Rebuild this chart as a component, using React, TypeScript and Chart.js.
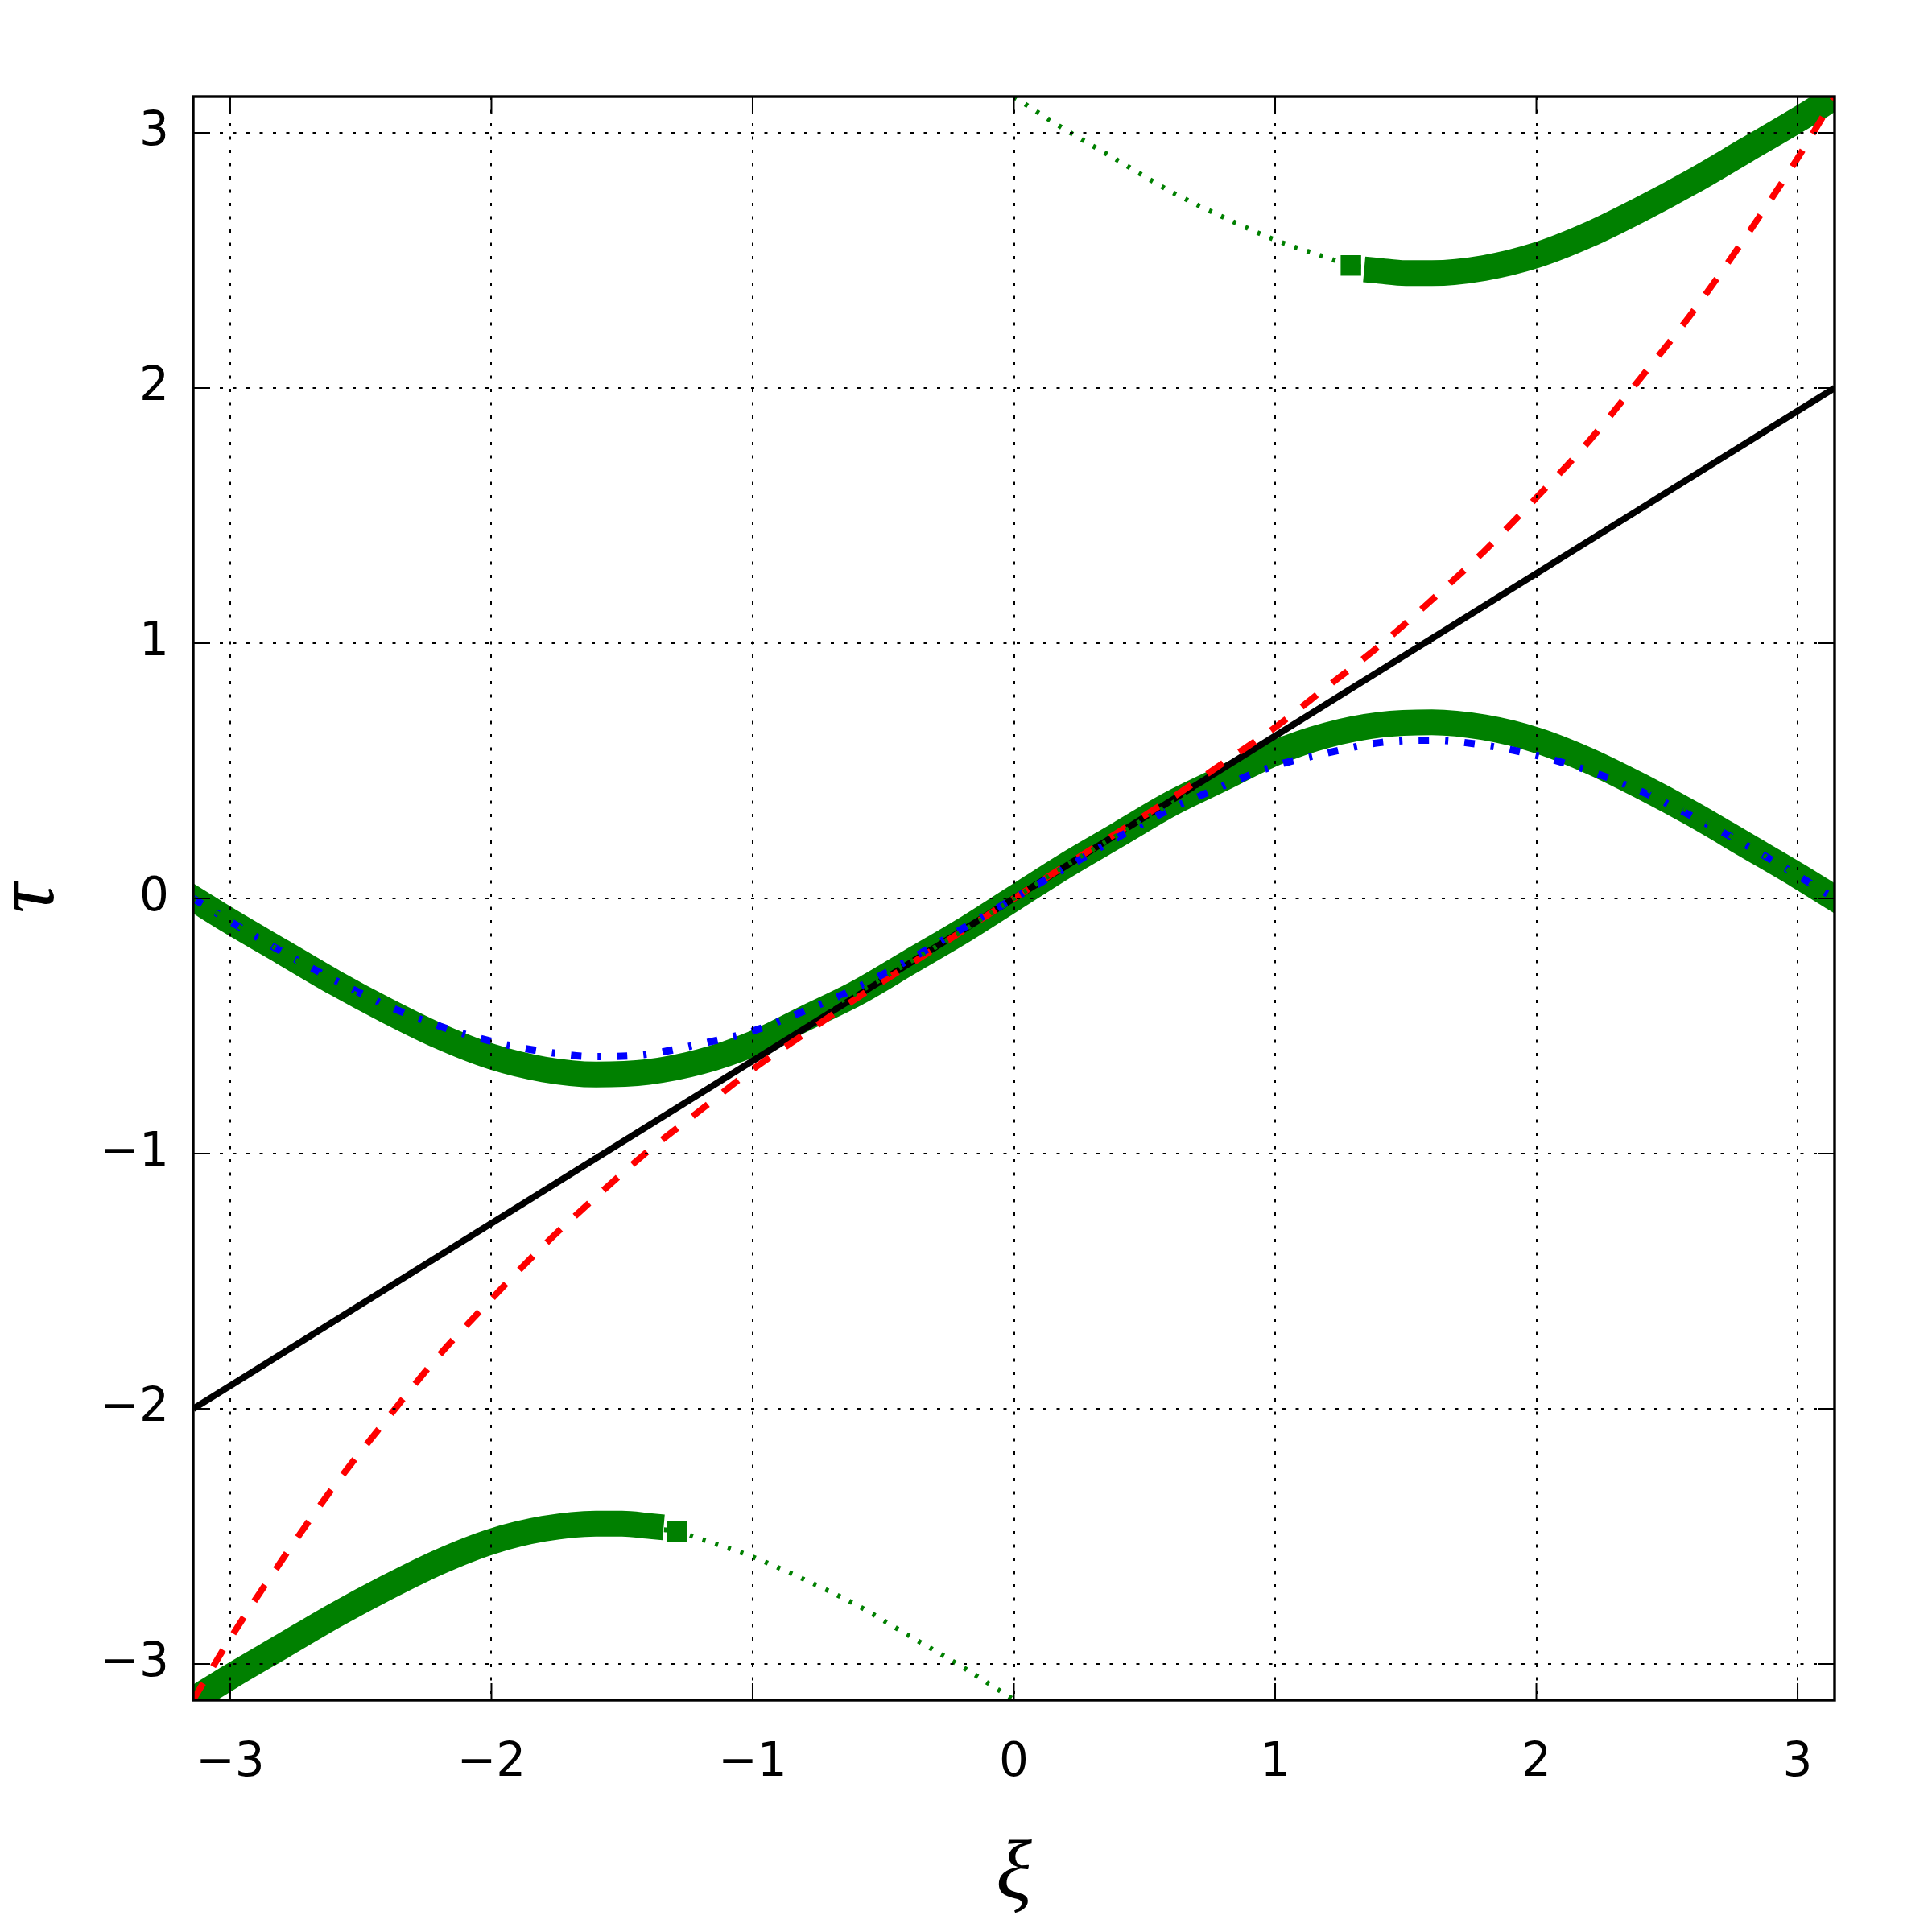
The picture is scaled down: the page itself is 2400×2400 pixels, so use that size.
import React, { useEffect, useRef } from 'react';
import { Chart, registerables } from 'chart.js';

Chart.register(...registerables);

// ---------- data ----------
const XI = [-3.1416, -3.0, -2.8, -2.6, -2.4, -2.2, -2.0, -1.8, -1.6, -1.4, -1.2, -1.0, -0.8, -0.6, -0.4, -0.2, 0,
  0.2, 0.4, 0.6, 0.8, 1.0, 1.2, 1.4, 1.6, 1.8, 2.0, 2.2, 2.4, 2.6, 2.8, 3.0, 3.1416];

const GREEN_MID = [0, -0.09, -0.21, -0.33, -0.44, -0.54, -0.62, -0.67, -0.69, -0.68, -0.64, -0.57, -0.47, -0.37, -0.25, -0.13, 0,
  0.13, 0.25, 0.37, 0.47, 0.57, 0.64, 0.68, 0.69, 0.67, 0.62, 0.54, 0.44, 0.33, 0.21, 0.09, 0];

const BLUE = [0, -0.09, -0.21, -0.32, -0.42, -0.50, -0.56, -0.60, -0.62, -0.61, -0.57, -0.52, -0.44, -0.35, -0.24, -0.12, 0,
  0.12, 0.24, 0.35, 0.44, 0.52, 0.57, 0.61, 0.62, 0.60, 0.56, 0.50, 0.42, 0.32, 0.21, 0.09, 0];

const RED = [-3.14, -2.90, -2.59, -2.30, -2.04, -1.79, -1.57, -1.36, -1.17, -0.99, -0.83, -0.67, -0.53, -0.39, -0.26, -0.13, 0,
  0.13, 0.26, 0.39, 0.53, 0.67, 0.83, 0.99, 1.17, 1.36, 1.57, 1.79, 2.04, 2.30, 2.59, 2.90, 3.14];

const BLACK_X = [-3.1416, 3.1416];
const BLACK_Y = [-2, 2];

const XI_UP = [1.39, 1.5, 1.6, 1.8, 2.0, 2.2, 2.4, 2.6, 2.8, 3.0, 3.1416];
const GREEN_UP = [2.46, 2.45, 2.45, 2.47, 2.52, 2.60, 2.70, 2.81, 2.93, 3.05, 3.14];

const XI_LOW = [-3.1416, -3.0, -2.8, -2.6, -2.4, -2.2, -2.0, -1.8, -1.6, -1.5, -1.39];
const GREEN_LOW = [-3.14, -3.05, -2.93, -2.81, -2.70, -2.60, -2.52, -2.47, -2.45, -2.45, -2.46];

const XI_DOT_UP = [0, 0.2, 0.4, 0.6, 0.8, 1.0, 1.2, 1.29, 1.39];
const DOT_UP = [3.14, 3.01, 2.89, 2.77, 2.67, 2.58, 2.51, 2.48, 2.47];

const XI_DOT_LOW = [-1.39, -1.29, -1.2, -1.0, -0.8, -0.6, -0.4, -0.2, 0];
const DOT_LOW = [-2.47, -2.48, -2.51, -2.58, -2.67, -2.77, -2.89, -3.01, -3.14];

const MARK_X = [1.29, -1.29];
const MARK_Y = [2.48, -2.48];

const TICK_VALUES = [-3, -2, -1, 0, 1, 2, 3];
const TICK_LABELS = ['\u22123', '\u22122', '\u22121', '0', '1', '2', '3'];

const X_TITLE = '\u03BE';
const Y_TITLE = '\u03C4';

// ---------- styles ----------
const GREEN = '#008000';
const BLUE_C = '#0000ff';
const RED_C = '#ff0000';
const BLACK_C = '#000000';

const pts = (xs: number[], ys: number[]) => xs.map((x, i) => ({ x, y: ys[i] }));

const framePlugin = {
  id: 'frameTicks',
  afterDraw(chart: any) {
    const { ctx, chartArea, scales } = chart;
    const { left, right, top, bottom } = chartArea;
    const L = 21;
    ctx.save();
    ctx.strokeStyle = '#000';
    ctx.lineWidth = 2;
    ctx.setLineDash([]);
    ctx.beginPath();
    for (const v of TICK_VALUES) {
      const px = scales.x.getPixelForValue(v);
      ctx.moveTo(px, bottom); ctx.lineTo(px, bottom - L);
      ctx.moveTo(px, top); ctx.lineTo(px, top + L);
      const py = scales.y.getPixelForValue(v);
      ctx.moveTo(left, py); ctx.lineTo(left + L, py);
      ctx.moveTo(right, py); ctx.lineTo(right - L, py);
    }
    ctx.stroke();
    ctx.lineWidth = 3.4;
    ctx.strokeRect(left, top, right - left, bottom - top);
    ctx.restore();
  },
};

export default function App() {
  const ref = useRef<HTMLCanvasElement>(null);

  useEffect(() => {
    const canvas = ref.current;
    if (!canvas) return;

    const tickFont = { family: 'DejaVu Sans', size: 58 };
    const titleFont = { family: 'Liberation Serif', size: 104, style: 'italic' as const, lineHeight: 0.6 };

    const lineDs = (data: any, color: string, width: number, dash: number[] = [], extra: any = {}) => ({
      data,
      showLine: true,
      borderColor: color,
      backgroundColor: color,
      borderWidth: width,
      borderDash: dash,
      pointRadius: 0,
      pointHoverRadius: 0,
      cubicInterpolationMode: 'monotone' as const,
      fill: false,
      ...extra,
    });

    const chart = new Chart(canvas, {
      type: 'scatter',
      data: {
        datasets: [
          lineDs(pts(XI, GREEN_MID), GREEN, 6, [4, 12.5]),
          lineDs(pts(XI, BLUE), BLUE_C, 9, [13, 20, 4, 20]),
          lineDs(pts(XI, RED), RED_C, 8, [24, 24]),
          lineDs(pts(BLACK_X, BLACK_Y), BLACK_C, 8),
          {
            data: pts(MARK_X, MARK_Y),
            showLine: false,
            pointStyle: 'rect',
            pointRadius: 18,
            pointHoverRadius: 18,
            pointBorderWidth: 0,
            backgroundColor: GREEN,
            borderColor: GREEN,
          },
          lineDs(pts(XI_DOT_UP, DOT_UP), GREEN, 6, [4, 12.5]),
          lineDs(pts(XI_DOT_LOW, DOT_LOW), GREEN, 6, [4, 12.5]),
          lineDs(pts(XI, GREEN_MID), GREEN, 32, [], { borderCapStyle: 'square' }),
          lineDs(pts(XI_UP, GREEN_UP), GREEN, 32, [], { borderCapStyle: 'square' }),
          lineDs(pts(XI_LOW, GREEN_LOW), GREEN, 32, [], { borderCapStyle: 'square' }),
        ] as any,
      },
      options: {
        responsive: false,
        animation: false,
        events: [],
        layout: { padding: { top: 120, right: 121, left: 0, bottom: 0 } },
        plugins: {
          legend: { display: false },
          tooltip: { enabled: false },
          title: { display: false },
        },
        scales: {
          x: {
            type: 'linear',
            min: -Math.PI,
            max: Math.PI,
            afterBuildTicks: (s: any) => { s.ticks = TICK_VALUES.map((v) => ({ value: v })); },
            afterFit: (s: any) => { s.height = 288; },
            ticks: {
              autoSkip: false,
              maxRotation: 0,
              minRotation: 0,
              padding: 44,
              color: '#000',
              font: tickFont,
              callback: (v: any) => TICK_LABELS[TICK_VALUES.indexOf(Math.round(Number(v)))] ?? '',
            },
            grid: { color: '#000', lineWidth: 2, drawTicks: false, z: 1 },
            border: { display: false, dash: [4, 12.5] },
            title: { display: true, text: X_TITLE, color: '#000', font: titleFont, padding: { top: 0, bottom: 38 } },
          },
          y: {
            type: 'linear',
            min: -Math.PI,
            max: Math.PI,
            afterBuildTicks: (s: any) => { s.ticks = TICK_VALUES.map((v) => ({ value: v })); },
            afterFit: (s: any) => { s.width = 240; },
            ticks: {
              autoSkip: false,
              padding: 30,
              color: '#000',
              font: tickFont,
              callback: (v: any) => TICK_LABELS[TICK_VALUES.indexOf(Math.round(Number(v)))] ?? '',
            },
            grid: { color: '#000', lineWidth: 2, drawTicks: false, z: 1 },
            border: { display: false, dash: [4, 12.5] },
            title: { display: true, text: Y_TITLE, color: '#000', font: titleFont, padding: { top: 7, bottom: 0 } },
          },
        },
      } as any,
      plugins: [framePlugin],
    });

    return () => chart.destroy();
  }, []);

  return (
    <div style={{ position: 'absolute', left: 0, top: 0, width: 2400, height: 2400, background: '#fff' }}>
      <canvas ref={ref} width={2400} height={2400} style={{ display: 'block', width: 2400, height: 2400 }} />
    </div>
  );
}
